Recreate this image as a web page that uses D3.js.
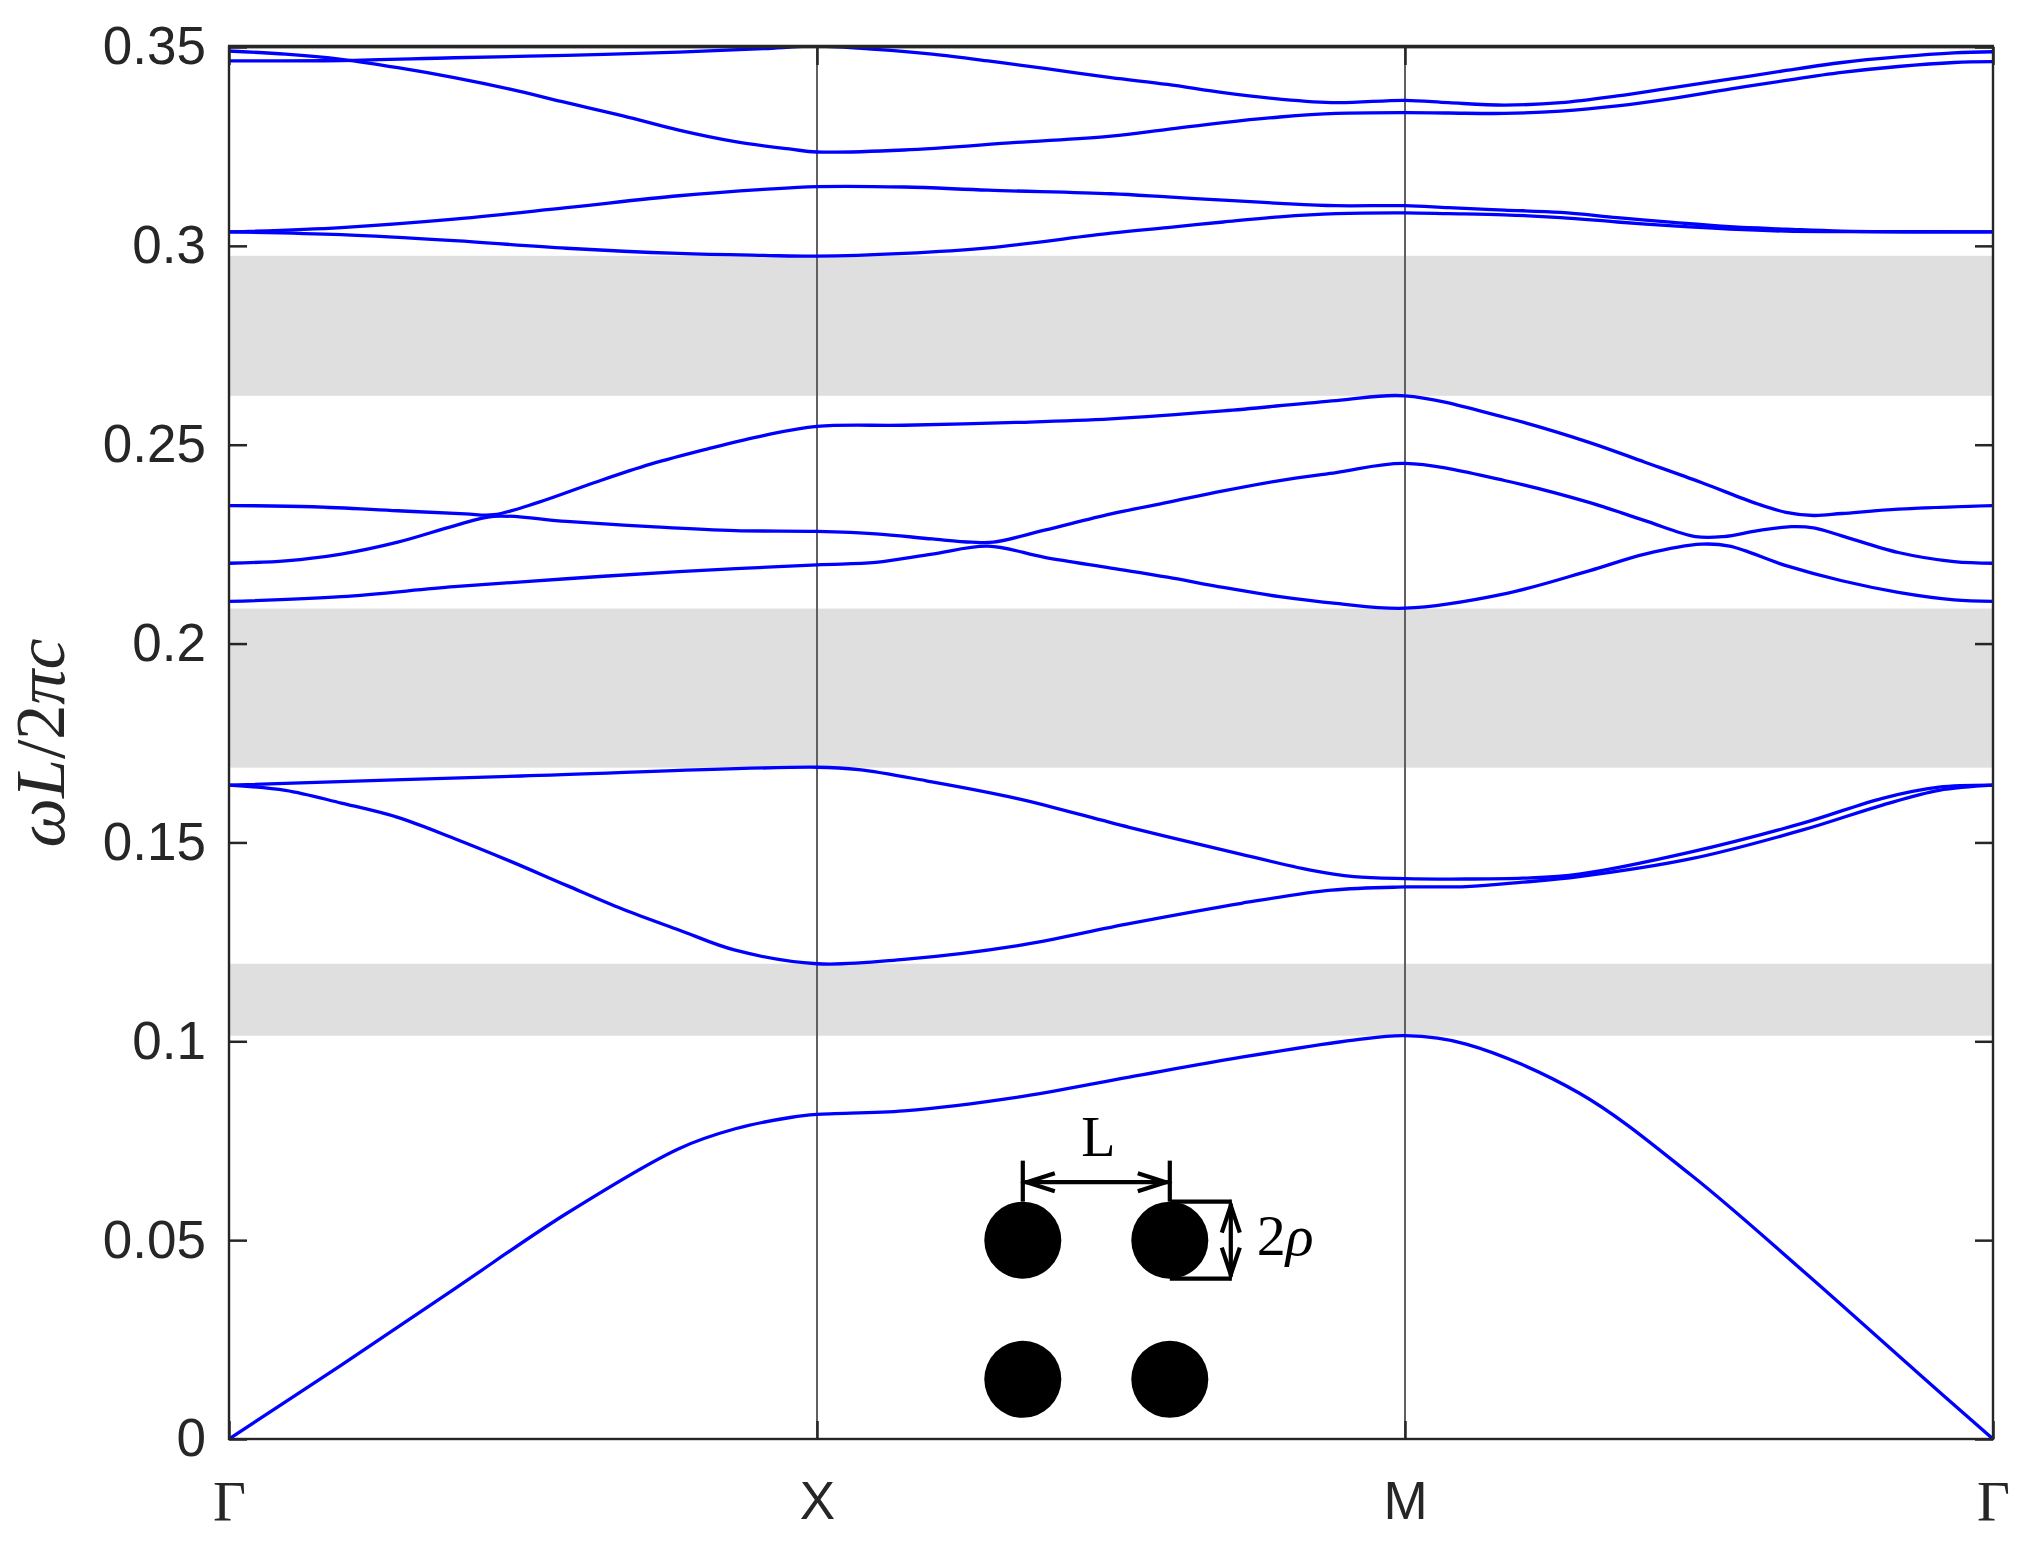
<!DOCTYPE html>
<html><head><meta charset="utf-8">
<script src="https://cdn.jsdelivr.net/npm/d3@7/dist/d3.min.js"></script>
<style>body{margin:0;background:#fff}</style>
</head><body><svg id="c" width="2025" height="1553"></svg>
<script>
// ---------- data ----------
const pathTicks = [0, 1, 2, 3];
const pathLabels = ["Γ", "X", "M", "Γ"];
const yTickVals = [0, 0.05, 0.1, 0.15, 0.2, 0.25, 0.3, 0.35];
const yTickLabels = ["0", "0.05", "0.1", "0.15", "0.2", "0.25", "0.3", "0.35"];

// complete band gaps (lower edge, upper edge)
const gapLo = [0.1014, 0.1688, 0.2623];
const gapHi = [0.1195, 0.2088, 0.2975];

// bands: k (0=Γ,1=X,2=M,3=Γ) and normalized frequency ωL/2πc
const k1 = [0, .191, .383, .574, .765, .861, .957, 1, 1.148, 1.339, 1.531, 1.722, 1.913, 2, 2.104, 2.296, 2.487, 2.678, 2.870, 3];
const w1 = [0, .0186, .0377, .0567, .0730, .0780, .0809, .0816, .0825, .0859, .0910, .0960, .1003, .1014, .0993, .0870, .0663, .0421, .0169, 0];

const k2 = [0, .096, .191, .287, .383, .478, .574, .670, .765, .861, 1, 1.148, 1.339, 1.531, 1.722, 1.875, 2, 2.104, 2.2, 2.296, 2.487, 2.678, 2.812, 2.908, 3];
const w2 = [.1644, .1631, .1599, .1563, .1510, .1453, .1392, .1332, .1280, .1229, .1195, .1206, .1240, .1296, .1347, .1380, .1388, .1389, .1400, .1414, .1459, .1532, .1594, .1631, .1644];

const k3 = [0, .497, 1, 1.071, 1.186, 1.339, 1.531, 1.722, 1.837, 1.913, 2, 2.104, 2.2, 2.296, 2.487, 2.678, 2.812, 2.908, 3];
const w3 = [.1644, .1667, .1689, .1683, .1655, .1611, .1538, .1470, .1431, .1414, .1409, .1408, .1410, .1420, .1476, .1549, .1611, .1639, .1644];

const k4 = [0, .191, .383, .574, .765, 1, 1.1, 1.196, 1.291, 1.387, 1.5, 1.596, 1.691, 1.787, 1.883, 2, 2.169, 2.313, 2.408, 2.504, 2.552, 2.648, 2.743, 2.839, 2.934, 3];
const w4 = [.2106, .2118, .2143, .2163, .2181, .2198, .2204, .2225, .2245, .2217, .2190, .2167, .2141, .2118, .2101, .2089, .2125, .2183, .2225, .2250, .2245, .2196, .2158, .2129, .2110, .2106];

const k5 = [0, .096, .191, .287, .383, .45, .574, .717, .861, 1, 1.1, 1.196, 1.263, 1.30, 1.387, 1.5, 1.596, 1.691, 1.787, 1.883, 2, 2.169, 2.313, 2.408, 2.494, 2.542, 2.600, 2.657, 2.695, 2.743, 2.839, 2.934, 3];
const w5 = [.2202, .2208, .2225, .2255, .2296, .2320, .2307, .2294, .2284, .2282, .2276, .2263, .2255, .2255, .2285, .2326, .2355, .2384, .2410, .2430, .2453, .2410, .2355, .2309, .2269, .2269, .2284, .2294, .2291, .2271, .2229, .2206, .2202];

const k6 = [0, .143, .287, .402, .45, .526, .622, .717, .813, .909, 1, 1.148, 1.339, 1.5, 1.691, 1.883, 2, 2.169, 2.313, 2.408, 2.504, 2.600, 2.648, 2.695, 2.743, 2.839, 3];
const w6 = [.2347, .2344, .2334, .2326, .2324, .2355, .2405, .2451, .2489, .2523, .2546, .2549, .2556, .2565, .2585, .2611, .2623, .2569, .2506, .2456, .2405, .2351, .2330, .2322, .2327, .2338, .2347];

const k7 = [0, .191, .383, .574, .765, .909, 1, 1.148, 1.291, 1.5, 1.596, 1.691, 1.787, 1.883, 2, 2.074, 2.169, 2.265, 2.361, 2.456, 2.552, 2.648, 2.743, 3];
const w7 = [.3035, .3028, .3013, .2994, .2981, .2976, .2974, .2981, .2995, .3032, .3046, .3060, .3073, .3081, .3083, .3081, .3078, .3071, .3060, .3050, .3042, .3037, .3036, .3035];

const k8 = [0, .191, .383, .574, .765, .909, 1, 1.148, 1.291, 1.5, 1.596, 1.691, 1.787, 1.883, 2, 2.074, 2.169, 2.265, 2.361, 2.456, 2.552, 2.648, 2.743, 3];
const w8 = [.3035, .3046, .3067, .3096, .3126, .3142, .3149, .3148, .3140, .3131, .3123, .3115, .3107, .3101, .3101, .3096, .3090, .3084, .3071, .3059, .3048, .3042, .3037, .3035];

const k9 = [0, .096, .191, .287, .383, .478, .574, .670, .765, .861, .956, 1, 1.148, 1.339, 1.5, 1.596, 1.691, 1.787, 1.883, 2, 2.074, 2.169, 2.265, 2.361, 2.456, 2.552, 2.648, 2.743, 2.839, 2.934, 3];
const w9 = [.3490, .3482, .3469, .3448, .3423, .3394, .3360, .3327, .3291, .3262, .3243, .3236, .3241, .3260, .3276, .3293, .3310, .3324, .3333, .3335, .3334, .3333, .3339, .3352, .3371, .3394, .3416, .3436, .3451, .3461, .3463];

const k10 = [0, .191, .383, .574, .765, .909, 1, 1.1, 1.196, 1.291, 1.387, 1.5, 1.596, 1.691, 1.787, 1.883, 2, 2.074, 2.169, 2.265, 2.361, 2.456, 2.552, 2.648, 2.743, 2.839, 2.934, 3];
const w10 = [.3465, .3466, .3473, .3479, .3487, .3496, .3502, .3494, .3482, .3465, .3446, .3423, .3406, .3385, .3369, .3360, .3366, .3360, .3354, .3360, .3377, .3398, .3419, .3441, .3461, .3475, .3485, .3488];

// inset (unit cell sketch) placed in data coordinates
const insetK = [1.35, 1.6];
const insetW = [0.05, 0.015];

// ---------- drawing ----------
(function () {
const svg = d3.select("#c");
const L = 229, R = 1993, T = 47, B = 1439;
const x = d3.scaleLinear().domain([0, 3]).range([L, R]);
const y = d3.scaleLinear().domain([0, 0.35]).range([B, T]);
const ink = "#262626";

svg.append("rect").attr("width", 2025).attr("height", 1553).attr("fill", "#fff");

svg.append("defs").append("clipPath").attr("id", "clip")
  .append("rect").attr("x", L).attr("y", T).attr("width", R - L).attr("height", B - T);

// band gaps
svg.append("g").selectAll("rect").data(gapLo.map((lo, i) => [lo, gapHi[i]])).join("rect")
  .attr("x", L).attr("width", R - L)
  .attr("y", d => y(d[1])).attr("height", d => y(d[0]) - y(d[1]))
  .attr("fill", "#dfdfdf");

// symmetry point lines
svg.append("g").selectAll("line").data([1, 2]).join("line")
  .attr("x1", d => x(d)).attr("x2", d => x(d)).attr("y1", T).attr("y2", B)
  .attr("stroke", "#606060").attr("stroke-width", 2);

// bands
const bands = [[k1, w1], [k2, w2], [k3, w3], [k4, w4], [k5, w5], [k6, w6], [k7, w7], [k8, w8], [k9, w9], [k10, w10]]
  .map(([ks, ws]) => ks.map((k, i) => [k, ws[i]]));
const lineGen = d3.line().x(d => x(d[0])).y(d => y(d[1])).curve(d3.curveCatmullRom.alpha(0.5));
svg.append("g").attr("clip-path", "url(#clip)").selectAll("path").data(bands).join("path")
  .attr("d", lineGen).attr("fill", "none").attr("stroke", "#0000ff").attr("stroke-width", 3.3)
  .attr("stroke-linejoin", "round");

// inset
const ins = svg.append("g");
const cx = insetK.map(k => x(k)), cy = insetW.map(w => y(w));
const r = 38.5;
const circ = [];
cy.forEach(yy => cx.forEach(xx => circ.push([xx, yy])));
ins.selectAll("circle").data(circ).join("circle")
  .attr("cx", d => d[0]).attr("cy", d => d[1]).attr("r", r).attr("fill", "#000");
const sw = 4.2;
const seg = (x1, y1, x2, y2) => ins.append("line").attr("x1", x1).attr("y1", y1).attr("x2", x2).attr("y2", y2)
  .attr("stroke", "#000").attr("stroke-width", sw);
const pl = (pts) => ins.append("path").attr("d", d3.line()(pts)).attr("fill", "none")
  .attr("stroke", "#000").attr("stroke-width", sw).attr("stroke-linejoin", "miter");
// L dimension
const cTop = cy[0] - r;
seg(cx[0], cTop - 41, cx[0], cTop);
seg(cx[1], cTop - 41, cx[1], cTop);
const ay = cTop - 19.5;
seg(cx[0] + 2, ay, cx[1] - 2, ay);
pl([[cx[0] + 32, ay - 9], [cx[0] + 4, ay], [cx[0] + 32, ay + 9]]);
pl([[cx[1] - 32, ay - 9], [cx[1] - 4, ay], [cx[1] - 32, ay + 9]]);
ins.append("text").attr("x", (cx[0] + cx[1]) / 2 + 2).attr("y", cTop - 46)
  .attr("text-anchor", "middle").attr("font-family", "Liberation Serif").attr("font-size", 56).text("L");
// 2rho dimension
const vx = cx[1] + 61;
seg(cx[1], cy[0] - r, vx + 1, cy[0] - r);
seg(cx[1], cy[0] + r, vx + 1, cy[0] + r);
seg(vx, cy[0] - r + 2, vx, cy[0] + r - 2);
pl([[vx - 9, cy[0] - r + 31], [vx, cy[0] - r + 4], [vx + 9, cy[0] - r + 31]]);
pl([[vx - 9, cy[0] + r - 31], [vx, cy[0] + r - 4], [vx + 9, cy[0] + r - 31]]);
const rt = ins.append("text").attr("x", vx + 26).attr("y", cy[0] + 15)
  .attr("font-family", "Liberation Serif").attr("font-size", 58);
rt.append("tspan").text("2");
rt.append("tspan").attr("font-style", "italic").text("ρ");

// axes (ticks inside, box)
const tl = 18;
const gl = svg.append("g").attr("transform", `translate(${L},0)`)
  .call(d3.axisLeft(y).tickValues(yTickVals).tickFormat((d, i) => yTickLabels[i]).tickSizeInner(-tl).tickSizeOuter(0).tickPadding(23));
const gr = svg.append("g").attr("transform", `translate(${R},0)`)
  .call(d3.axisRight(y).tickValues(yTickVals).tickFormat("").tickSizeInner(-tl).tickSizeOuter(0));
const gb = svg.append("g").attr("transform", `translate(0,${B})`)
  .call(d3.axisBottom(x).tickValues(pathTicks).tickFormat((d, i) => pathLabels[i]).tickSizeInner(-tl).tickSizeOuter(0).tickPadding(42));
const gt = svg.append("g").attr("transform", `translate(0,${T})`)
  .call(d3.axisTop(x).tickValues(pathTicks).tickFormat("").tickSizeInner(-tl).tickSizeOuter(0));
[gl, gr, gb, gt].forEach(g => {
  g.select(".domain").remove();
  g.selectAll(".tick line").attr("stroke", ink).attr("stroke-width", 2.5);
  g.selectAll("text").attr("fill", ink).attr("font-family", "Liberation Sans, Arial, sans-serif").attr("font-size", 53);
});
gb.selectAll("text").attr("font-family", (d, i) => pathLabels[i] === "Γ" ? "Liberation Serif" : "Liberation Sans")
  .attr("font-size", (d, i) => pathLabels[i] === "Γ" ? 57 : 53);

svg.append("rect").attr("x", L).attr("y", T).attr("width", R - L).attr("height", B - T)
  .attr("fill", "none").attr("stroke", ink).attr("stroke-width", 2.4);
svg.append("line").attr("x1", L - 1).attr("x2", R + 1).attr("y1", T - 0.5).attr("y2", T - 0.5)
  .attr("stroke", ink).attr("stroke-width", 3.5);

// y label
const yl = svg.append("text").attr("transform", `translate(64,${(T + B) / 2}) rotate(-90)`)
  .attr("text-anchor", "middle").attr("font-family", "Liberation Serif").attr("font-size", 70).attr("fill", ink);
yl.append("tspan").attr("font-style", "italic").text("ωL");
yl.append("tspan").text("/2");
yl.append("tspan").attr("font-style", "italic").text("πc");
})();
</script></body></html>
